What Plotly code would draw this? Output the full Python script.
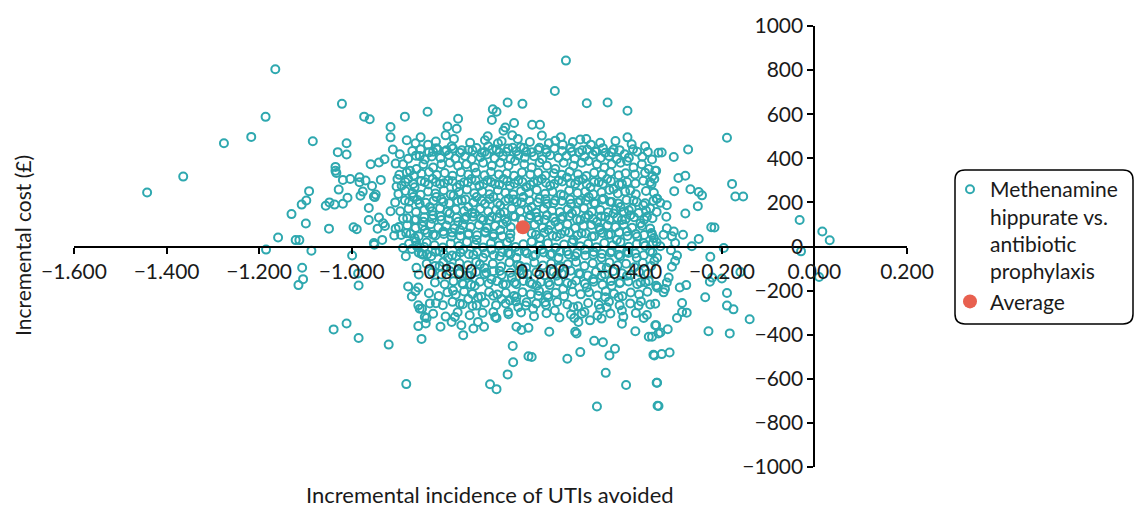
import plotly.graph_objects as go

# Probabilistic sensitivity analysis: incremental UTIs avoided vs incremental cost (£)
utis_avoided = [
    # western tail and left flank
    -1.165, -1.021, -0.973, -0.961, -1.186, -0.916, -0.916, -1.217, -1.276, -1.084, -1.011, -1.030,
    -1.011, -0.911, -1.364, -1.442, -0.959, -0.941, -0.929, -0.905, -1.035, -1.035, -1.033, -1.019,
    -1.003, -0.983, -0.970, -0.983, -0.956, -0.937, -0.903, -0.901, -1.028, -1.092, -1.098, -1.108,
    -0.976, -0.981, -0.952, -0.948, -0.950, -1.009, -1.019, -1.037, -1.048, -1.056, -0.963, -0.906,
    -0.916, -1.130, -1.099, -1.049, -0.996, -0.989, -0.963, -0.941, -0.932, -0.944, -0.928, -0.905,
    -0.908, -1.159, -1.121, -1.113, -0.934, -0.952, -1.185, -1.087, -1.107, -1.105, -1.115, -0.999,
    -0.986, -0.985, -0.951, -0.889, -0.870, -0.883, -0.861, -0.878, -0.860, -1.039, -1.011, -0.985,
    -0.920, -0.882, -0.860, -0.843, -0.849, -0.855, -0.862, -0.856, -0.870, -0.856, -0.848, -0.838,
    -0.840, -0.856, -0.849,
    # upper fringe
    -0.537, -0.561, -0.492, -0.447, -0.404, -0.663, -0.631, -0.695, -0.687, -0.697, -0.836, -0.885,
    -0.770, -0.793, -0.773, -0.797, -0.668, -0.649, -0.672, -0.653, -0.610, -0.593, -0.589, -0.851,
    -0.881, -0.404, -0.506, -0.706, -0.383, -0.337,
    # core, 400-480
    -0.896, -0.853, -0.835, -0.824, -0.814, -0.795, -0.784, -0.762, -0.739, -0.719, -0.705, -0.687,
    -0.676, -0.666, -0.652, -0.635, -0.623, -0.594, -0.580, -0.560, -0.544, -0.524, -0.502, -0.483,
    -0.471, -0.452, -0.434, -0.401,
    # core, 340-390
    -0.889, -0.874, -0.860, -0.845, -0.824, -0.806, -0.788, -0.770, -0.752, -0.734, -0.716, -0.697,
    -0.679, -0.661, -0.647, -0.627, -0.611, -0.594, -0.578, -0.560, -0.542, -0.521, -0.503, -0.488,
    -0.470, -0.454, -0.438, -0.419, -0.405, -0.391, -0.373, -0.358, -0.342,
    # core, 250-315
    -0.892, -0.878, -0.864, -0.842, -0.825, -0.809, -0.791, -0.773, -0.757, -0.741, -0.724, -0.707,
    -0.690, -0.672, -0.658, -0.640, -0.623, -0.607, -0.589, -0.571, -0.553, -0.535, -0.517, -0.500,
    -0.484, -0.466, -0.448, -0.434, -0.416, -0.398, -0.355,
    # core, 160-230
    -0.885, -0.867, -0.853, -0.831, -0.817, -0.802, -0.780, -0.762, -0.748, -0.730, -0.712, -0.694,
    -0.679, -0.661, -0.643, -0.629, -0.611, -0.594, -0.578, -0.560, -0.542, -0.526, -0.506, -0.488,
    -0.474, -0.456, -0.438, -0.419, -0.401, -0.391, -0.370, -0.355, -0.340,
    # core, 100-150
    -0.889, -0.864, -0.845, -0.824, -0.806, -0.788, -0.770, -0.752, -0.734, -0.716, -0.697, -0.679,
    -0.665, -0.647, -0.614, -0.596, -0.578, -0.560, -0.544, -0.524, -0.506, -0.488, -0.470, -0.452,
    -0.434, -0.416, -0.398, -0.376, -0.362,
    # core, 15-75
    -0.882, -0.864, -0.842, -0.824, -0.802, -0.784, -0.766, -0.748, -0.730, -0.712, -0.694, -0.679,
    -0.658, -0.611, -0.593, -0.575, -0.557, -0.539, -0.521, -0.503, -0.481, -0.463, -0.445, -0.427,
    -0.405, -0.383, -0.369, -0.347,
    # core, 0 to -55
    -0.846, -0.828, -0.810, -0.792, -0.774, -0.759, -0.737, -0.716, -0.698, -0.680, -0.662, -0.644,
    -0.626, -0.608, -0.589, -0.571, -0.553, -0.535, -0.517, -0.496, -0.478, -0.460, -0.438, -0.420,
    -0.402, -0.384, -0.355, -0.340,
    # core, -80 to -200
    -0.781, -0.766, -0.759, -0.745, -0.734, -0.709, -0.698, -0.680, -0.673, -0.654, -0.644, -0.629,
    -0.615, -0.600, -0.575, -0.557, -0.543, -0.524, -0.506, -0.492, -0.478, -0.460, -0.438, -0.420,
    -0.405, -0.376, -0.358, -0.340, -0.810, -0.723, -0.550, -0.449, -0.636,
    # core, -220 to -310
    -0.853, -0.818, -0.766, -0.748, -0.727, -0.730, -0.694, -0.694, -0.676, -0.662, -0.658, -0.644,
    -0.640, -0.622, -0.608, -0.597, -0.582, -0.575, -0.561, -0.521, -0.503, -0.463, -0.449, -0.452,
    -0.423, -0.416, -0.380, -0.369,
    # core, -320 to -410
    -0.842, -0.808, -0.784, -0.777, -0.763, -0.759, -0.737, -0.727, -0.714, -0.687, -0.644, -0.633,
    -0.618, -0.573, -0.519, -0.510, -0.517, -0.514, -0.485, -0.460, -0.416, -0.387, -0.358, -0.344,
    -0.337,
    # lower fringe
    -0.652, -0.476, -0.457, -0.431, -0.443, -0.506, -0.534, -0.618, -0.611, -0.651, -0.663, -0.701,
    -0.687, -0.451, -0.407, -0.470, -0.348, -0.340, -0.339,
    # eastern flank above zero
    -0.189, -0.330, -0.304, -0.273, -0.344, -0.346, -0.294, -0.279, -0.303, -0.268, -0.250, -0.243,
    -0.178, -0.171, -0.154, -0.341, -0.333, -0.319, -0.341, -0.320, -0.279, -0.252, -0.319, -0.304,
    -0.326, -0.308, -0.284, -0.351, -0.250, -0.223, -0.216, -0.032, 0.017, 0.033, -0.265, -0.341,
    -0.301, -0.333,
    # eastern flank below zero
    -0.196, -0.225, -0.346, -0.310, -0.297, -0.301, -0.308, -0.315, -0.319, -0.342, -0.339, -0.323,
    -0.326, -0.221, -0.226, -0.200, -0.160, -0.236, -0.189, -0.291, -0.277, -0.344, -0.286, -0.276,
    -0.286, -0.297, -0.189, -0.175, -0.140, -0.342, -0.333, -0.317, -0.351, -0.229, -0.183, -0.346,
    -0.330, -0.313, -0.341, -0.337, -0.029, 0.010,
]

incremental_cost = [
    # western tail and left flank
    804, 647, 589, 577, 588, 542, 495, 497, 468, 477, 468, 428,
    417, 440, 317, 245, 373, 381, 396, 376, 361, 343, 333, 302,
    306, 314, 299, 291, 274, 302, 272, 306, 258, 251, 209, 190,
    249, 230, 227, 236, 224, 221, 194, 190, 200, 185, 175, 200,
    160, 147, 104, 81, 87, 78, 120, 131, 105, 81, 93, 81,
    50, 41, 29, 29, 30, 16, -14, -19, -96, -148, -175, -41,
    -122, -177, 8, -7, -11, -44, 23, -181, -96, -376, -349, -415,
    -445, -624, 4, -2, -34, -127, -203, -186, -227, -267, -282, -324,
    -349, -361, -419,
    # upper fringe
    843, 705, 650, 653, 616, 653, 647, 622, 611, 574, 611, 589,
    579, 544, 534, 504, 540, 560, 525, 504, 552, 552, 503, 495,
    482, 495, 485, 500, 430, 425,
    # core, 400-480
    418, 410, 462, 430, 440, 436, 455, 436, 436, 425, 455, 440,
    477, 430, 448, 450, 430, 448, 440, 480, 462, 430, 436, 462,
    430, 425, 440, 403,
    # core, 340-390
    373, 343, 351, 373, 358, 373, 380, 366, 373, 358, 380, 366,
    380, 366, 388, 373, 358, 380, 366, 351, 380, 366, 380, 388,
    373, 358, 373, 380, 388, 358, 373, 351, 343,
    # core, 250-315
    276, 306, 269, 291, 306, 284, 299, 269, 291, 306, 276, 299,
    284, 306, 276, 299, 269, 291, 306, 276, 299, 313, 284, 306,
    269, 291, 306, 261, 284, 254, 291,
    # core, 160-230
    209, 224, 194, 179, 224, 202, 231, 209, 179, 224, 194, 224,
    187, 217, 202, 224, 179, 217, 194, 209, 231, 194, 209, 224,
    194, 217, 202, 179, 164, 209, 187, 172, 217,
    # core, 100-150
    127, 120, 112, 142, 120, 150, 112, 135, 150, 120, 135, 150,
    112, 135, 142, 120, 142, 112, 135, 150, 120, 142, 112, 135,
    150, 120, 142, 105, 135,
    # core, 15-75
    60, 38, 75, 53, 68, 45, 75, 53, 30, 68, 45, 75,
    38, 60, 38, 75, 45, 68, 30, 60, 45, 75, 53, 30,
    68, 45, 15, 38,
    # core, 0 to -55
    -37, -44, -22, -51, -44, -14, -37, -51, -14, -44, -29, -51,
    -22, -44, -14, -37, -51, -22, -44, -14, -37, -51, -22, -44,
    -29, -51, -22, -51,
    # core, -80 to -200
    -200, -119, -171, -133, -178, -119, -148, -111, -171, -141, -171, -126,
    -163, -178, -163, -133, -193, -171, -126, -186, -148, -133, -178, -163,
    -133, -163, -156, -186, -89, -81, -89, -96, -89,
    # core, -220 to -310
    -282, -257, -260, -238, -230, -268, -223, -297, -238, -297, -245, -230,
    -275, -253, -282, -223, -253, -230, -290, -275, -305, -282, -275, -230,
    -230, -290, -268, -324,
    # core, -320 to -410
    -320, -364, -342, -320, -357, -402, -372, -342, -364, -324, -364, -379,
    -369, -387, -324, -342, -387, -394, -335, -327, -350, -384, -409, -357,
    -394,
    # lower fringe
    -451, -428, -434, -464, -494, -479, -509, -498, -501, -525, -580, -625,
    -647, -573, -628, -726, -491, -618, -722,
    # eastern flank above zero
    493, 426, 406, 440, 344, 306, 311, 321, 251, 260, 247, 232,
    284, 227, 227, 217, 198, 187, 157, 135, 150, 183, 83, 68,
    53, 46, 53, 53, 34, 87, 86, 120, 68, 28, 1, 19,
    16, 1,
    # eastern flank below zero
    -7, -47, -66, -17, -41, -66, -92, -141, -163, -178, -186, -193,
    -208, -141, -160, -145, -116, -230, -211, -186, -175, -260, -256, -300,
    -297, -324, -268, -285, -330, -357, -390, -375, -409, -384, -394, -494,
    -488, -481, -618, -723, -22, -138,
]

# Further simulations packed into the dense central cloud
core_avoided = [
    # around 400
    -0.878, -0.861, -0.842, -0.827, -0.808, -0.790, -0.776, -0.755, -0.741, -0.722, -0.708, -0.691,
    -0.673, -0.657, -0.640, -0.626, -0.606, -0.588, -0.571, -0.553, -0.536, -0.518, -0.497, -0.479,
    -0.462, -0.444, -0.427, -0.410, -0.372, -0.351,
    # around 330
    -0.897, -0.881, -0.866, -0.849, -0.833, -0.816, -0.799, -0.782, -0.764, -0.748, -0.731, -0.713,
    -0.699, -0.682, -0.665, -0.649, -0.632, -0.614, -0.597, -0.581, -0.563, -0.546, -0.529, -0.511,
    -0.493, -0.476, -0.459, -0.441, -0.423, -0.408, -0.388, -0.366, -0.350,
    # around 245
    -0.899, -0.884, -0.869, -0.851, -0.835, -0.819, -0.801, -0.786, -0.768, -0.751, -0.735, -0.718,
    -0.702, -0.684, -0.668, -0.651, -0.634, -0.617, -0.600, -0.582, -0.566, -0.548, -0.530, -0.512,
    -0.495, -0.478, -0.460, -0.443, -0.425, -0.409, -0.386, -0.364, -0.347,
    # around 165
    -0.895, -0.877, -0.861, -0.843, -0.826, -0.809, -0.793, -0.775, -0.757, -0.740, -0.722, -0.705,
    -0.688, -0.670, -0.654, -0.636, -0.619, -0.602, -0.585, -0.567, -0.550, -0.533, -0.515, -0.498,
    -0.481, -0.463, -0.446, -0.429, -0.412, -0.395, -0.380, -0.364,
    # around 90
    -0.898, -0.880, -0.862, -0.847, -0.829, -0.813, -0.795, -0.778, -0.760, -0.743, -0.725, -0.708,
    -0.690, -0.673, -0.656, -0.622, -0.605, -0.587, -0.570, -0.552, -0.534, -0.517, -0.499, -0.482,
    -0.465, -0.447, -0.430, -0.412, -0.394, -0.373, -0.355,
    # around 10
    -0.876, -0.857, -0.838, -0.821, -0.803, -0.786, -0.768, -0.751, -0.733, -0.716, -0.699, -0.681,
    -0.664, -0.646, -0.629, -0.611, -0.594, -0.576, -0.559, -0.541, -0.524, -0.506, -0.489, -0.471,
    -0.454, -0.436, -0.419, -0.401, -0.384, -0.366, -0.349,
    # around -80
    -0.838, -0.820, -0.802, -0.785, -0.767, -0.749, -0.731, -0.713, -0.695, -0.677, -0.659, -0.641,
    -0.623, -0.605, -0.587, -0.569, -0.551, -0.533, -0.515, -0.497, -0.479, -0.461, -0.443, -0.425,
    -0.407, -0.389, -0.371, -0.353,
    # around -215
    -0.833, -0.812, -0.793, -0.775, -0.757, -0.739, -0.720, -0.703, -0.685, -0.667, -0.649, -0.631,
    -0.613, -0.595, -0.577, -0.559, -0.541, -0.523, -0.505, -0.487, -0.469, -0.451, -0.433, -0.415,
    -0.397, -0.379, -0.361,
    # around -310
    -0.824, -0.797, -0.771, -0.745, -0.717, -0.690, -0.661, -0.634, -0.606, -0.579, -0.551, -0.526,
    -0.497, -0.469, -0.441, -0.413, -0.386, -0.362,
    # around 480
    -0.862, -0.818, -0.779, -0.744, -0.712, -0.684, -0.641, -0.615, -0.574, -0.548, -0.522, -0.493,
    -0.463, -0.430, -0.395, -0.366,
    # around 435
    -0.869, -0.851, -0.833, -0.817, -0.799, -0.781, -0.766, -0.748, -0.730, -0.713, -0.696, -0.681,
    -0.662, -0.644, -0.628, -0.611, -0.597, -0.579, -0.562, -0.545, -0.527, -0.509, -0.491, -0.474,
    -0.457, -0.439, -0.421, -0.392, -0.360,
    # around 290
    -0.884, -0.867, -0.850, -0.834, -0.818, -0.800, -0.782, -0.766, -0.749, -0.732, -0.715, -0.699,
    -0.681, -0.664, -0.648, -0.631, -0.614, -0.598, -0.580, -0.562, -0.545, -0.527, -0.510, -0.492,
    -0.476, -0.457, -0.440, -0.422, -0.405, -0.387, -0.370, -0.352,
    # around 205
    -0.876, -0.858, -0.840, -0.823, -0.806, -0.789, -0.771, -0.754, -0.737, -0.719, -0.702, -0.685,
    -0.668, -0.650, -0.633, -0.616, -0.598, -0.581, -0.564, -0.546, -0.528, -0.511, -0.494, -0.476,
    -0.459, -0.442, -0.424, -0.406, -0.384, -0.366, -0.348,
    # around 125
    -0.880, -0.861, -0.843, -0.826, -0.808, -0.791, -0.773, -0.756, -0.738, -0.721, -0.703, -0.686,
    -0.669, -0.651, -0.633, -0.616, -0.600, -0.583, -0.565, -0.548, -0.530, -0.513, -0.495, -0.478,
    -0.461, -0.443, -0.426, -0.408, -0.390, -0.368, -0.350,
    # around 55
    -0.893, -0.873, -0.855, -0.837, -0.819, -0.801, -0.783, -0.765, -0.747, -0.729, -0.711, -0.693,
    -0.675, -0.657, -0.602, -0.584, -0.566, -0.548, -0.530, -0.512, -0.494, -0.476, -0.458, -0.440,
    -0.422, -0.404, -0.386, -0.368, -0.352,
    # around -30
    -0.855, -0.837, -0.819, -0.801, -0.783, -0.765, -0.747, -0.729, -0.711, -0.693, -0.675, -0.657,
    -0.639, -0.621, -0.603, -0.585, -0.567, -0.549, -0.531, -0.513, -0.495, -0.477, -0.459, -0.441,
    -0.423, -0.405, -0.387, -0.369, -0.350,
    # around -120
    -0.826, -0.806, -0.787, -0.768, -0.750, -0.731, -0.713, -0.694, -0.676, -0.657, -0.638, -0.620,
    -0.601, -0.583, -0.564, -0.546, -0.527, -0.509, -0.490, -0.472, -0.453, -0.435, -0.416, -0.398,
    -0.379, -0.360,
    # around -165
    -0.820, -0.799, -0.780, -0.761, -0.742, -0.723, -0.704, -0.686, -0.667, -0.648, -0.629, -0.610,
    -0.591, -0.572, -0.553, -0.534, -0.515, -0.496, -0.477, -0.458, -0.440, -0.421, -0.402, -0.383,
    -0.365,
    # around -260
    -0.831, -0.803, -0.782, -0.760, -0.739, -0.712, -0.688, -0.667, -0.645, -0.624, -0.601, -0.580,
    -0.556, -0.534, -0.511, -0.489, -0.466, -0.444, -0.421, -0.398, -0.375, -0.355,
]

core_cost = [
    # around 400
    398, 412, 395, 408, 401, 415, 399, 410, 396, 405, 417, 400,
    410, 397, 413, 402, 409, 396, 414, 403, 410, 398, 407, 416,
    401, 410, 396, 418, 407, 395,
    # around 330
    325, 336, 322, 330, 338, 324, 333, 321, 337, 327, 334, 323,
    338, 326, 331, 321, 336, 327, 335, 322, 332, 325, 339, 328,
    320, 334, 326, 337, 323, 332, 327, 335, 320,
    # around 245
    238, 252, 243, 235, 249, 240, 255, 236, 247, 258, 241, 250,
    237, 255, 244, 236, 251, 242, 256, 239, 248, 236, 254, 243,
    250, 237, 246, 256, 240, 249, 237, 252, 244,
    # around 165
    160, 171, 156, 167, 160, 174, 158, 168, 161, 153, 170, 159,
    166, 155, 172, 160, 167, 154, 171, 162, 157, 169, 160, 174,
    158, 166, 155, 168, 158, 172, 152, 163,
    # around 90
    88, 96, 84, 93, 101, 86, 95, 83, 97, 89, 98, 84,
    93, 102, 87, 94, 99, 85, 96, 88, 101, 84, 93, 98,
    86, 95, 89, 100, 85, 94, 82,
    # around 10
    12, -3, 18, 6, -5, 14, 2, 20, 8, -4, 15, 5,
    19, -2, 10, 22, 3, 15, -6, 9, 18, 1, 12, -3,
    16, 6, 20, -1, 11, 3, 17,
    # around -80
    -78, -88, -71, -93, -76, -85, -70, -97, -78, -91, -72, -84,
    -95, -73, -86, -77, -98, -80, -70, -89, -76, -93, -72, -85,
    -78, -94, -74, -88,
    # around -215
    -212, -225, -208, -219, -204, -215, -228, -206, -218, -210, -224, -207,
    -216, -202, -221, -210, -226, -205, -217, -208, -222, -203, -214, -226,
    -209, -218, -205,
    # around -310
    -305, -318, -298, -312, -301, -320, -307, -299, -316, -303, -322, -308,
    -297, -313, -304, -319, -302, -311,
    # around 480
    468, 476, 488, 470, 482, 468, 488, 474, 468, 496, 474, 487,
    470, 478, 464, 455,
    # around 435
    433, 441, 427, 446, 431, 444, 425, 438, 447, 429, 441, 426,
    444, 432, 447, 428, 439, 426, 445, 433, 447, 427, 440, 432,
    446, 428, 437, 441, 429,
    # around 290
    292, 284, 297, 281, 293, 287, 296, 280, 290, 299, 283, 292,
    281, 296, 286, 293, 280, 297, 289, 283, 295, 287, 299, 282,
    293, 285, 297, 281, 292, 286, 298, 283,
    # around 205
    203, 211, 198, 207, 214, 196, 205, 213, 199, 208, 215, 197,
    206, 213, 199, 209, 201, 214, 196, 206, 213, 200, 209, 197,
    212, 203, 195, 211, 202, 196, 208,
    # around 125
    128, 122, 133, 126, 136, 121, 130, 124, 135, 127, 120, 131,
    125, 137, 122, 129, 134, 121, 130, 126, 137, 123, 131, 125,
    136, 121, 130, 124, 133, 121, 128,
    # around 55
    52, 58, 47, 61, 50, 57, 63, 48, 59, 51, 62, 55,
    47, 58, 53, 62, 49, 57, 64, 51, 59, 47, 61, 54,
    63, 48, 57, 52, 61,
    # around -30
    -28, -36, -25, -33, -41, -27, -35, -24, -32, -40, -26, -34,
    -23, -31, -39, -27, -33, -24, -36, -29, -41, -25, -34, -28,
    -37, -23, -32, -40, -27,
    # around -120
    -118, -127, -112, -123, -131, -116, -126, -112, -129, -119, -111, -125,
    -117, -130, -114, -124, -110, -121, -131, -115, -126, -112, -121, -129,
    -116, -124,
    # around -165
    -163, -171, -158, -167, -174, -160, -168, -157, -172, -163, -156, -170,
    -161, -175, -158, -166, -155, -169, -160, -173, -157, -167, -159, -171,
    -162,
    # around -260
    -258, -266, -251, -262, -270, -255, -266, -258, -249, -268, -259, -265,
    -252, -263, -271, -256, -264, -250, -267, -258, -249, -263,
]

average_avoided = [-0.630]
average_cost = [87]

x_ticks = [-1.6, -1.4, -1.2, -1.0, -0.8, -0.6, -0.4, -0.2, 0.0, 0.2]
x_tick_labels = ["\u22121.600", "\u22121.400", "\u22121.200", "\u22121.000", "\u22120.800",
                 "\u22120.600", "\u22120.400", "\u22120.200", "0.000", "0.200"]
y_ticks = [1000, 800, 600, 400, 200, 0, -200, -400, -600, -800, -1000]
y_tick_labels = ["1000", "800", "600", "400", "200", "0", "\u2212200", "\u2212400",
                 "\u2212600", "\u2212800", "\u22121000"]

TEAL = "#2ea8af"
RED = "#e8604f"
INK = "#1a1a1a"
FONT = "Lato"

W, H = 1135, 508
ML, MR, MT, MB = 74, 228, 20, 41
PW, PH = W - ML - MR, H - MT - MB


def px_to_paper(px, py):
    return (px - ML) / PW, (H - MB - py) / PH


def rounded_box(x0, y0, x1, y1, r):
    def p(px, py):
        a, b = px_to_paper(px, py)
        return f"{a:.5f},{b:.5f}"
    return (f"M {p(x0 + r, y0)} L {p(x1 - r, y0)} Q {p(x1, y0)} {p(x1, y0 + r)} "
            f"L {p(x1, y1 - r)} Q {p(x1, y1)} {p(x1 - r, y1)} "
            f"L {p(x0 + r, y1)} Q {p(x0, y1)} {p(x0, y1 - r)} "
            f"L {p(x0, y0 + r)} Q {p(x0, y0)} {p(x0 + r, y0)} Z")


fig = go.Figure()
fig.add_trace(go.Scatter(
    x=utis_avoided + core_avoided, y=incremental_cost + core_cost, mode="markers",
    name="Methenamine<br>hippurate vs.<br>antibiotic<br>prophylaxis",
    marker=dict(symbol="circle-open", size=8, color=TEAL, line=dict(width=2, color=TEAL)),
))
fig.add_trace(go.Scatter(
    x=average_avoided, y=average_cost, mode="markers", name="Average",
    marker=dict(symbol="circle", size=14, color=RED, line=dict(width=0)),
))

axis_common = dict(
    showline=True, linecolor="black", linewidth=2,
    ticks="outside", ticklen=6, tickwidth=2, tickcolor="black",
    showgrid=False, zeroline=False, anchor="free",
    tickfont=dict(family=FONT, size=21, color=INK),
)

leg_x, leg_y = px_to_paper(950, 165)

fig.update_layout(
    width=W, height=H,
    margin=dict(l=ML, r=MR, t=MT, b=MB, pad=0),
    plot_bgcolor="white", paper_bgcolor="white",
    font=dict(family=FONT, size=21, color=INK),
    xaxis=dict(range=[-1.6, 0.2], position=0.5, tickvals=x_ticks, ticktext=x_tick_labels,
               **axis_common),
    yaxis=dict(range=[-1000, 1000], position=1.6 / 1.8, tickvals=y_ticks, ticktext=y_tick_labels,
               **axis_common),
    showlegend=True,
    legend=dict(x=leg_x, y=leg_y, xanchor="left", yanchor="top", valign="top",
                bgcolor="rgba(0,0,0,0)", borderwidth=0,
                font=dict(family=FONT, size=21, color=INK)),
    shapes=[dict(type="path", xref="paper", yref="paper",
                 path=rounded_box(955, 166, 1133, 322, 10),
                 line=dict(color="black", width=1.5), fillcolor="rgba(0,0,0,0)")],
    annotations=[
        dict(text="Incremental incidence of UTIs avoided", xref="paper", yref="paper",
             x=px_to_paper(490, 495)[0], y=px_to_paper(490, 495)[1],
             xanchor="center", yanchor="middle", showarrow=False,
             font=dict(family=FONT, size=22, color=INK)),
        dict(text="Incremental cost (\u00a3)", xref="paper", yref="paper",
             x=px_to_paper(22, 243)[0], y=px_to_paper(22, 243)[1], textangle=-90,
             xanchor="center", yanchor="middle", showarrow=False,
             font=dict(family=FONT, size=21, color=INK)),
    ],
)

fig.write_html("out.html")
